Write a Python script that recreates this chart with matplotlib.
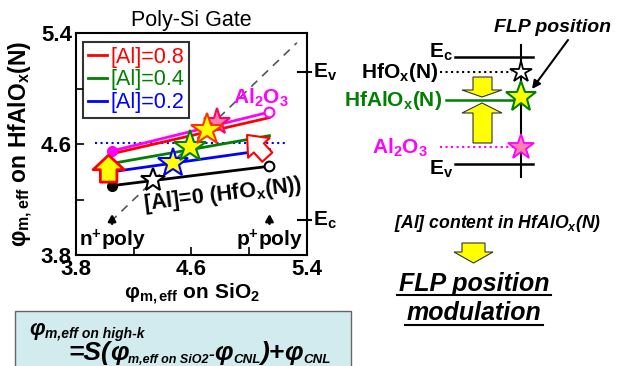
import matplotlib
matplotlib.use('Agg')
import matplotlib.pyplot as plt
from matplotlib.patches import Polygon, Rectangle

plt.rcParams['font.family'] = ['Liberation Sans', 'DejaVu Sans']
plt.rcParams['mathtext.fontset'] = 'custom'
plt.rcParams['mathtext.rm'] = 'Liberation Sans:bold'
plt.rcParams['mathtext.it'] = 'Liberation Sans:bold:italic'
plt.rcParams['mathtext.bf'] = 'Liberation Sans:bold'
plt.rcParams['mathtext.sf'] = 'Liberation Sans:bold'

# ---------------- data ----------------
x_sio2 = [4.05, 5.14]                 # n+poly, p+poly  (phi_m,eff on SiO2)
phi_hfox = [4.30, 4.44]               # [Al]=0 (HfOx(N))
phi_al02 = [4.40, 4.56]
phi_al04 = [4.46, 4.66]
phi_al08 = [4.53, 4.79]
phi_al2o3 = [4.55, 4.83]
series_labels = ['[Al]=0.8', '[Al]=0.4', '[Al]=0.2']
series_colors = ['#ff0000', '#008000', '#0000ff']
# FLP (intersection with y=x) points: HfOx, 0.2, 0.4, 0.8, Al2O3
flp_x = [4.33, 4.47, 4.59, 4.71, 4.78]
flp_y = [4.34, 4.46, 4.58, 4.70, 4.76]
ref_level = 4.61                      # blue dotted line
ref_x = [3.93, 5.25]
diag = [4.04, 5.33]                   # y = x guide
ticks = [3.8, 4.2, 4.6, 5.0, 5.4]
tick_labels = ['3.8', '', '4.6', '', '5.4']
band_edges = {'E$_\\mathrm{v}$': 5.12, 'E$_\\mathrm{c}$': 4.05}

W, H = 635, 366
fig = plt.figure(figsize=(W / 100, H / 100), dpi=100)
ax = fig.add_axes([76 / W, 1 - 255 / H, 231 / W, 222 / H])

ax.set_xlim(3.8, 5.4)
ax.set_ylim(3.8, 5.4)
ax.set_xticks(ticks)
ax.set_xticklabels(tick_labels)
ax.set_yticks(ticks)
ax.set_yticklabels(tick_labels)
ax.tick_params(direction='in', length=6, width=1.2, labelsize=16, pad=3)
for lab in ax.get_xticklabels() + ax.get_yticklabels():
    lab.set_fontweight('bold')
for s in ax.spines.values():
    s.set_linewidth(1.5)

ax.set_title('Poly-Si Gate', fontsize=15.5, pad=5)
ax.set_xlabel('φ$_\\mathrm{m,eff}$ on SiO$_\\mathrm{2}$', fontsize=15,
              fontweight='bold', labelpad=1)
ax.set_ylabel('φ$_\\mathrm{m,eff}$ on HfAlO$_\\mathrm{x}$(N)', fontsize=16.5,
              fontweight='bold', labelpad=4)

# guide lines
ax.plot(diag, diag, ls=(0, (5, 4)), color='#555555', lw=1.2, zorder=1)
ax.plot(ref_x, [ref_level, ref_level], color='#0000ff', ls=':', lw=1.5, zorder=1)

# series lines
ax.plot(x_sio2, phi_hfox, color='black', lw=2, zorder=3)
ax.plot(x_sio2[0], phi_hfox[0], 'o', color='black', ms=7, zorder=4)
ax.plot(x_sio2[1], phi_hfox[1], 'o', mfc='white', mec='black', mew=1.5, ms=7, zorder=4)
handles = []
for ys, c, lab in zip([phi_al08, phi_al04, phi_al02], series_colors, series_labels):
    h, = ax.plot(x_sio2, ys, color=c, lw=2, zorder=3, label=lab)
    handles.append(h)
ax.plot(x_sio2, phi_al2o3, color='#ff00ff', lw=2, zorder=3)
ax.plot(x_sio2[0], phi_al2o3[0], 'o', color='#ff00ff', ms=7, zorder=4)
ax.plot(x_sio2[1], phi_al2o3[1], 'o', mfc='white', mec='#ff00ff', mew=1.5, ms=7, zorder=4)

# stars
star_fc = ['white', '#ffff00', '#ffff00', '#ffff00', '#ff80b0']
star_ec = ['black', '#0000ff', '#008000', '#ff3300', '#ff0066']
star_ms = [18, 22, 24, 24, 20]
order = [0, 1, 2, 4, 3]
for i in order:
    ax.plot(flp_x[i], flp_y[i], '*', mfc=star_fc[i], mec=star_ec[i], mew=1.5,
            ms=star_ms[i], zorder=6 + order.index(i))

leg = ax.legend(handles=handles, loc='upper left', bbox_to_anchor=(0.03, 0.96),
                borderaxespad=0, fontsize=15.5, handlelength=0.9, handletextpad=0.15,
                labelspacing=0.08, borderpad=0.22, frameon=True, fancybox=False,
                labelcolor='linecolor')
leg.get_frame().set_edgecolor('black')
leg.get_frame().set_linewidth(1.5)

# arrows in plot
ax.annotate('', xy=(4.026, 4.52), xytext=(4.026, 4.325),
            arrowprops=dict(arrowstyle='simple,head_length=0.75,head_width=1.6,tail_width=0.85',
                            fc='#ffff00', ec='#ff0000', lw=2, shrinkA=0, shrinkB=0,
                            mutation_scale=14), zorder=8)
ax.annotate('', xy=(4.985, 4.665), xytext=(5.125, 4.505),
            arrowprops=dict(arrowstyle='simple,head_length=0.9,head_width=1.5,tail_width=0.7',
                            fc='white', ec='#ff0000', lw=1.5, shrinkA=0, shrinkB=0,
                            mutation_scale=14), zorder=8)
for xp in x_sio2:
    ax.annotate('', xy=(xp, 4.095), xytext=(xp, 4.025),
                arrowprops=dict(arrowstyle='-|>,head_length=0.5,head_width=0.28',
                                color='black', lw=1.8, mutation_scale=8,
                                shrinkA=0, shrinkB=0))
ax.text(x_sio2[0], 3.905, 'n$^\\mathrm{+}$poly', ha='center', va='center',
        fontsize=15, fontweight='bold')
ax.text(x_sio2[1], 3.905, 'p$^\\mathrm{+}$poly', ha='center', va='center',
        fontsize=15, fontweight='bold')
ax.text(4.82, 4.235, '[Al]=0 (HfO$_\\mathrm{x}$(N))', ha='center', va='center',
        fontsize=15.5, fontweight='bold', rotation=7)
ax.text(5.08, 4.93, 'Al$_\\mathrm{2}$O$_\\mathrm{3}$', ha='center', va='center',
        fontsize=15, fontweight='bold', color='#ff00ff')

for lab, yv in band_edges.items():
    ax.plot([5.335, 5.43], [yv, yv], color='black', lw=1.5, clip_on=False)
    ax.text(5.445, yv, lab, ha='left', va='center', fontsize=15, fontweight='bold')

# ---------------- overlay (schematic) ----------------
ov = fig.add_axes([0, 0, 1, 1])
ov.set_xlim(0, W)
ov.set_ylim(H, 0)
ov.axis('off')
ov.patch.set_alpha(0)

# band diagram
ov.plot([521, 521], [45, 177], color='black', lw=1.5)
ov.plot([455, 533], [57, 57], color='black', lw=1.8)
ov.plot([455, 533], [164, 164], color='black', lw=1.8)
ov.text(453, 52, 'E$_\\mathrm{c}$', ha='right', va='center', fontsize=15, fontweight='bold')
ov.text(453, 169, 'E$_\\mathrm{v}$', ha='right', va='center', fontsize=15, fontweight='bold')

ov.text(438, 73, 'HfO$_\\mathrm{x}$(N)', ha='right', va='center', fontsize=15, fontweight='bold')
ov.plot([440, 512], [72, 72], color='black', lw=1.5, ls=':')
ov.plot(521, 72, '*', mfc='white', mec='black', mew=1.3, ms=16, zorder=5)

ov.text(442, 101, 'HfAlO$_\\mathrm{x}$(N)', ha='right', va='center', fontsize=15,
        fontweight='bold', color='#008000')
ov.plot([446, 521], [100, 100], color='#008000', lw=1.8)
ov.plot(521, 97, '*', mfc='#ffff00', mec='#008000', mew=1.5, ms=23, zorder=5)

ov.text(428, 148, 'Al$_\\mathrm{2}$O$_\\mathrm{3}$', ha='right', va='center', fontsize=15,
        fontweight='bold', color='#ff00ff')
ov.plot([440, 514], [147, 147], color='#ff00ff', lw=1.5, ls=':')
ov.plot(521, 147, '*', mfc='#ff80b0', mec='#ff00ff', mew=1.3, ms=19, zorder=5)

ov.add_patch(Polygon([(473, 77), (492, 77), (492, 90), (502, 90), (482, 97), (462, 90),
                      (473, 90)], closed=True, fc='#ffff00', ec='#333333', lw=0.8))
ov.add_patch(Polygon([(482, 103), (502, 113), (492, 113), (492, 143), (473, 143),
                      (473, 113), (462, 113)], closed=True, fc='#ffff00', ec='#333333', lw=0.8))

ov.text(552, 27, 'FLP position', ha='center', va='center', fontsize=14,
        fontweight='bold', fontstyle='italic')
ov.annotate('', xy=(532, 89), xytext=(568, 40),
            arrowprops=dict(arrowstyle='-|>', color='black', lw=1.5, mutation_scale=12,
                            shrinkA=0, shrinkB=0))

ov.text(498, 223, '[Al] content in HfAlO$_x$(N)', ha='center', va='center', fontsize=12.7,
        fontweight='bold', fontstyle='italic')
ov.add_patch(Polygon([(462, 243), (485, 243), (485, 252), (493, 252), (473.5, 263),
                      (454, 252), (462, 252)], closed=True, fc='#ffff00', ec='#333333', lw=0.8))
ov.text(474, 284, 'FLP position', ha='center', va='center', fontsize=18,
        fontweight='bold', fontstyle='italic')
ov.plot([397, 551], [295, 295], color='black', lw=1.5)
ov.text(474, 313, 'modulation', ha='center', va='center', fontsize=18,
        fontweight='bold', fontstyle='italic')
ov.plot([405, 543], [325, 325], color='black', lw=1.5)

# formula box
ov.add_patch(Rectangle((15, 311), 336, 64, fc='#d2ebee', ec='#666666', lw=1))
bi = dict(fontweight='bold', fontstyle='italic', ha='left', va='baseline')
renderer = fig.canvas.get_renderer()


def chain(x, y, pieces):
    for s, size, dy in pieces:
        t = ov.text(x, y + dy, s, fontsize=size, **bi)
        x += t.get_window_extent(renderer=renderer).width


chain(29, 335, [('φ', 16, 0), ('m,eff on high-k', 10, 3)])
chain(68, 360, [('=S(', 19, 0), ('φ', 19, 0), ('m,eff on SiO2', 9, 3),
                ('-', 12.5, -1), ('φ', 19, 0), ('CNL', 9.5, 3), (')+', 19, 0),
                ('φ', 19, 0), ('CNL', 9.5, 3)])

fig.savefig('out.png', dpi=100)
